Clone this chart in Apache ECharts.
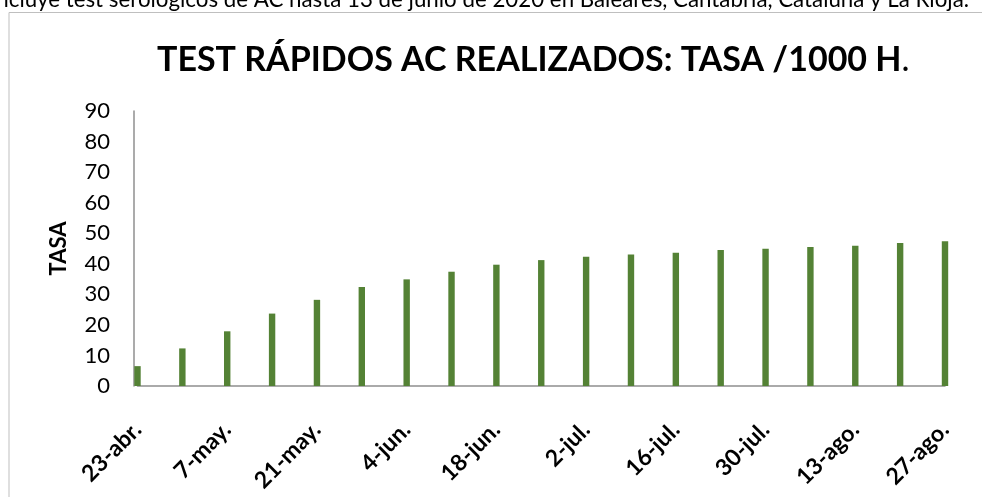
<!DOCTYPE html>
<html>
<head>
<meta charset="utf-8">
<script src="https://cdn.jsdelivr.net/npm/echarts@6/dist/echarts.min.js"></script>
<style>
html,body{margin:0;padding:0;background:#fff;}
#chart{width:982px;height:497px;}
</style>
</head>
<body>
<div id="chart"></div>
<script>
const categories = ['23-abr.','30-abr.','7-may.','14-may.','21-may.','28-may.','4-jun.','11-jun.','18-jun.','25-jun.','2-jul.','9-jul.','16-jul.','23-jul.','30-jul.','6-ago.','13-ago.','20-ago.','27-ago.'];
const tasa = [6.5,12.3,17.9,23.7,28.2,32.4,34.9,37.4,39.7,41.2,42.3,43.0,43.6,44.5,44.9,45.5,45.9,46.8,47.4];
const titleMain = 'TEST RÁPIDOS AC REALIZADOS: TASA /1000 H';
const titleEnd = '.';
const noteText = 'Incluye test serológicos de AC hasta 13 de junio de 2020 en Baleares, Cantabria, Cataluña y La Rioja.';
const yName = 'TASA';

const chart = echarts.init(document.getElementById('chart'), null, {renderer:'canvas'});
const FONT = 'Lato, "Open Sans", sans-serif';
chart.setOption({
  animation:false,
  backgroundColor:'#fff',
  graphic:[
    {type:'rect', shape:{x:9, y:12.5, width:1000, height:600}, style:{fill:'none', stroke:'#bfbfbf', lineWidth:1}, z:0},
    {type:'text', right:13, top:-11, style:{text:noteText, font:'22.3px Lato, sans-serif', fill:'#000'}, z:1}
  ],
  title:{
    text:'{b|' + titleMain + '}{n|' + titleEnd + '}', left:152, top:38,
    textStyle:{
      rich:{
        b:{fontFamily:FONT, fontWeight:'bold', fontSize:34, color:'#000'},
        n:{fontFamily:FONT, fontWeight:'normal', fontSize:34, color:'#000'}
      }
    }
  },
  grid:{left:137.5, right:37, top:111, bottom:111, containLabel:false},
  xAxis:{
    type:'category', data:categories, boundaryGap:false,
    axisLine:{show:true, lineStyle:{color:'#8f8f8f', width:1.5}},
    axisTick:{show:false},
    axisLabel:{interval:1, rotate:45, margin:40, fontFamily:FONT, fontWeight:'bold', fontSize:23, color:'#000'},
    splitLine:{show:false}
  },
  yAxis:{
    type:'value', min:0, max:90, interval:10, offset:3.5,
    name:yName, nameLocation:'middle', nameGap:64, nameRotate:90,
    nameTextStyle:{fontFamily:FONT, fontWeight:'bold', fontSize:22, color:'#000'},
    axisLine:{show:true, lineStyle:{color:'#8f8f8f', width:1.5}},
    axisTick:{show:false},
    axisLabel:{margin:24, fontFamily:FONT, fontSize:22, color:'#000'},
    splitLine:{show:false}
  },
  series:[{
    type:'bar', data:tasa, barWidth:6.4,
    itemStyle:{color:'#548235'}
  }]
});
</script>
</body>
</html>
